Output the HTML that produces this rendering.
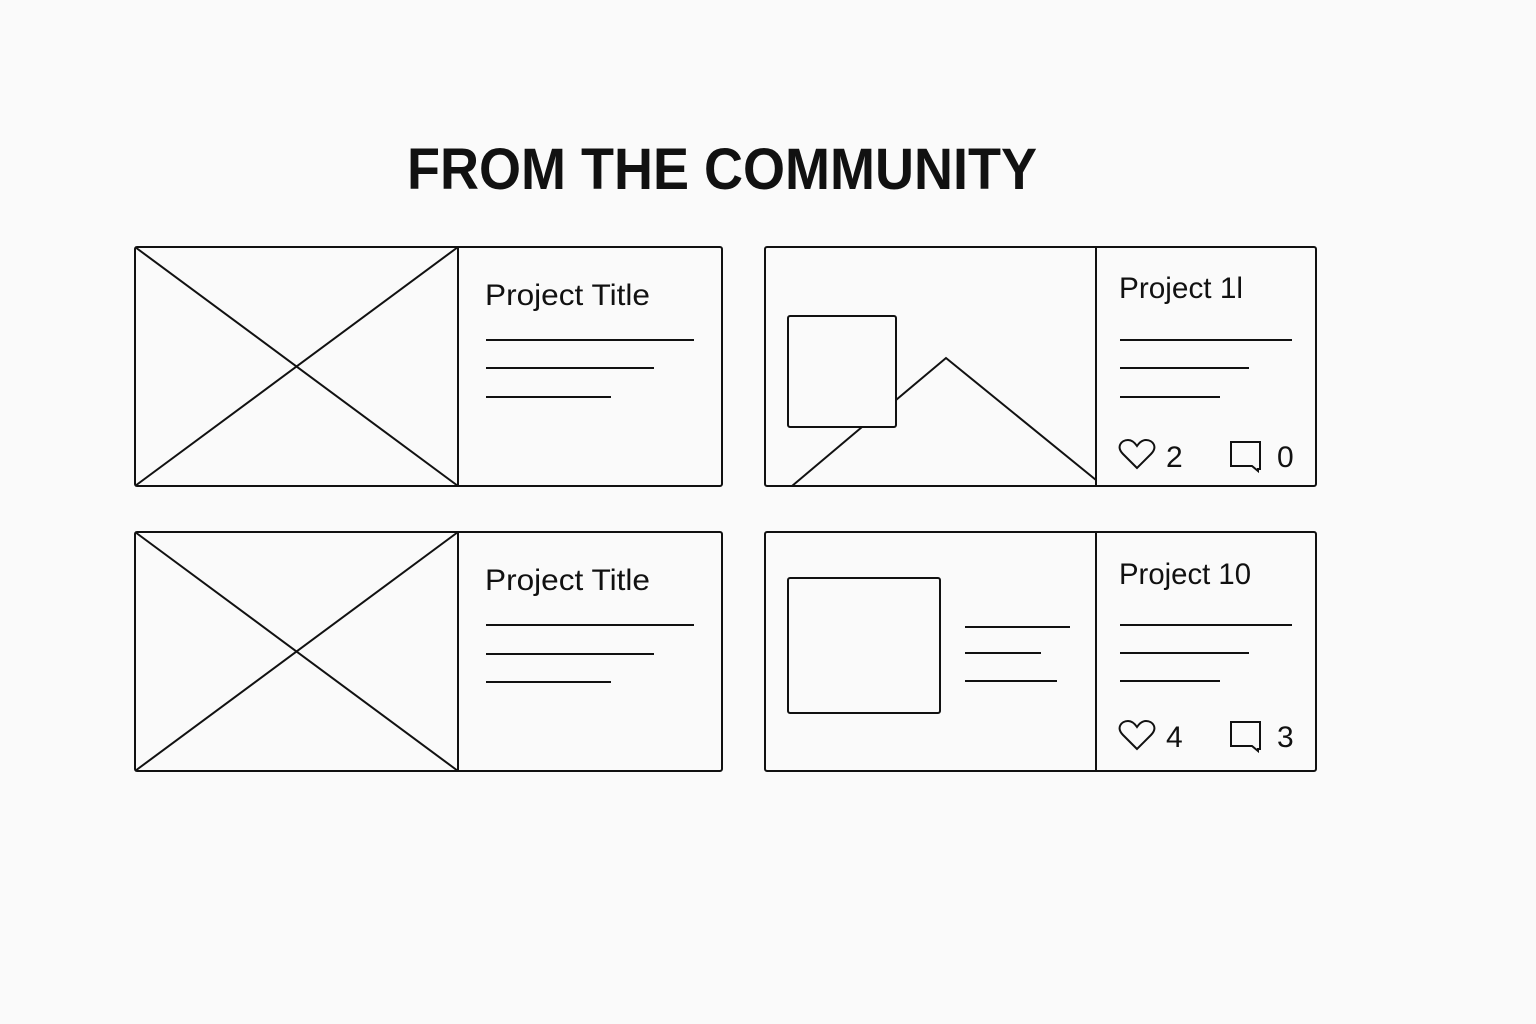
<!DOCTYPE html>
<html><head><meta charset="utf-8"><style>html,body{margin:0;padding:0;background:#fafafa}svg{display:block}</style></head>
<body>
<svg width="1536" height="1024" viewBox="0 0 1536 1024" xmlns="http://www.w3.org/2000/svg" font-family="Liberation Sans, sans-serif">
<rect width="1536" height="1024" fill="#fafafa"/>
<text x="407" y="189" font-size="58" font-weight="bold" fill="#111" textLength="630" lengthAdjust="spacingAndGlyphs">FROM THE COMMUNITY</text>
<g fill="none" stroke="#111" stroke-width="2">
<rect x="135" y="247" width="587" height="239" rx="2"/>
<line x1="458" y1="247" x2="458" y2="486"/>
<line x1="135" y1="247" x2="458" y2="486"/><line x1="458" y1="247" x2="135" y2="486"/>
<line x1="486" y1="340" x2="694" y2="340"/><line x1="486" y1="368" x2="654" y2="368"/><line x1="486" y1="397" x2="611" y2="397"/>
<rect x="135" y="532" width="587" height="239" rx="2"/>
<line x1="458" y1="532" x2="458" y2="771"/>
<line x1="135" y1="532" x2="458" y2="771"/><line x1="458" y1="532" x2="135" y2="771"/>
<line x1="486" y1="625" x2="694" y2="625"/><line x1="486" y1="654" x2="654" y2="654"/><line x1="486" y1="682" x2="611" y2="682"/>
<rect x="765" y="247" width="551" height="239" rx="2"/>
<line x1="1096" y1="247" x2="1096" y2="486"/>
<rect x="788" y="316" width="108" height="111" rx="2"/>
<polyline points="792,486 862,427"/><polyline points="896,400 946,358 1096,480"/>
<line x1="1120" y1="340" x2="1292" y2="340"/><line x1="1120" y1="368" x2="1249" y2="368"/><line x1="1120" y1="397" x2="1220" y2="397"/>
<path d="M1137,468 L1123,454 C1116,447 1121,440 1128,440 C1132,440 1135,443 1137,446 C1139,443 1142,440 1146,440 C1153,440 1158,447 1151,454 Z"/>
<path d="M1231,442 H1260 V469 H1258 V471 L1252,466 H1231 Z"/>
<rect x="765" y="532" width="551" height="239" rx="2"/>
<line x1="1096" y1="532" x2="1096" y2="771"/>
<rect x="788" y="578" width="152" height="135" rx="2"/>
<line x1="965" y1="627" x2="1070" y2="627"/><line x1="965" y1="653" x2="1041" y2="653"/><line x1="965" y1="681" x2="1057" y2="681"/>
<line x1="1120" y1="625" x2="1292" y2="625"/><line x1="1120" y1="653" x2="1249" y2="653"/><line x1="1120" y1="681" x2="1220" y2="681"/>
<path d="M1137,749 L1123,735 C1116,728 1121,721 1128,721 C1132,721 1135,724 1137,727 C1139,724 1142,721 1146,721 C1153,721 1158,728 1151,735 Z"/>
<path d="M1231,722 H1260 V749 H1258 V751 L1252,746 H1231 Z"/>
</g>
<g fill="#111" font-size="30">
<text x="485" y="305" textLength="165" lengthAdjust="spacingAndGlyphs">Project Title</text>
<text x="485" y="590" textLength="165" lengthAdjust="spacingAndGlyphs">Project Title</text>
<text x="1119" y="298" textLength="124" lengthAdjust="spacingAndGlyphs">Project 1l</text>
<text x="1119" y="584" textLength="132" lengthAdjust="spacingAndGlyphs">Project 10</text>
<text x="1166" y="467">2</text><text x="1277" y="467">0</text>
<text x="1166" y="747">4</text><text x="1277" y="747">3</text>
</g>
</svg>
</body></html>
